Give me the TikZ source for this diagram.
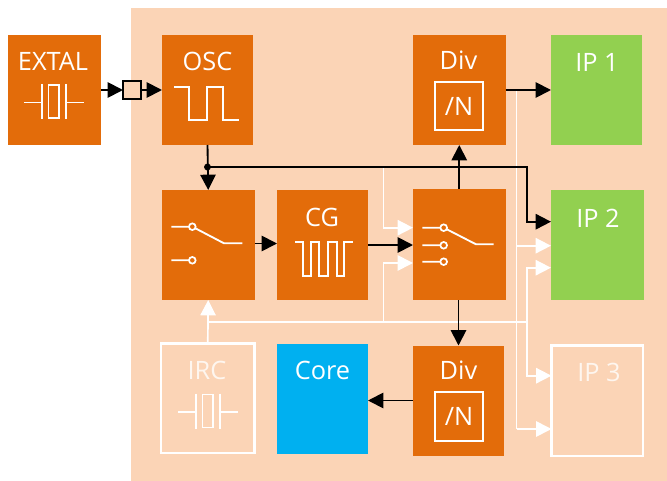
\documentclass[tikz,border=0pt]{standalone}
\usepackage{fontspec}
\setmainfont{Open Sans}
\usetikzlibrary{arrows.meta,calc}
\definecolor{orng}{HTML}{E36C0A}
\definecolor{peach}{HTML}{FBD4B6}
\definecolor{grn}{HTML}{92D050}
\definecolor{blu}{HTML}{00B0F0}
\tikzset{
  x=0.75pt,y=-0.75pt,
  lbl/.style={text=white,inner sep=0,font=\fontsize{19}{22}\selectfont},
  faint/.style={text=white!78!peach},
  wk/.style={draw=black,line width=1.4pt,-{Triangle[length=11.5pt,width=11.5pt]}},
  ww/.style={draw=white,line width=1.25pt,-{Triangle[length=11.5pt,width=11.5pt]}},
  wline/.style={draw=white,line width=1.25pt},
  icon/.style={draw=white,line width=1.4pt},
  pin/.style={circle,draw=white,line width=1.3pt,fill=orng,minimum size=5pt,inner sep=0},
}
\newcommand{\blockat}[7]{% name, x1,y1,x2,y2, fill, draw
  \path[fill=#6,draw=#7,line width=1.6pt] (#2,#3) rectangle (#4,#5);
  \node[inner sep=0,outer sep=0,minimum width={(#4-#2)*0.75pt},minimum height={(#5-#3)*0.75pt}] (#1) at ({(#2+#4)/2},{(#3+#5)/2}) {};
}
\newcommand{\crystal}[2]{%
  \begin{scope}[shift={(#1,#2)}]
    \draw[icon] (24,102.5) -- (42,102.5) (42,84) -- (42,119);
    \draw[icon] (48.5,85) rectangle (59,118);
    \draw[icon] (66,84) -- (66,119) (66,102.5) -- (84,102.5);
  \end{scope}}
\begin{document}
\begin{tikzpicture}
\useasboundingbox (0,0) rectangle (667,481);
\fill[white] (0,0) rectangle (667,481);
\fill[peach] (131,8) rectangle (667,481);
% blocks
\blockat{extal}{8}{35}{100.5}{145}{orng}{none}
\blockat{osc}{162}{35}{253}{145}{orng}{none}
\blockat{swa}{162}{190}{254.5}{300}{orng}{none}
\blockat{cg}{277}{190}{368}{300}{orng}{none}
\blockat{swb}{413}{188.5}{505.5}{300}{orng}{none}
\blockat{divt}{413}{35}{505.5}{145}{orng}{none}
\blockat{divb}{413}{345.5}{504}{455.5}{orng}{none}
\blockat{ipa}{551}{35}{641.5}{145}{grn}{none}
\blockat{ipb}{551}{190}{643.5}{300}{grn}{none}
\blockat{ipc}{551.5}{345.5}{643}{456}{peach}{white}
\blockat{irc}{161}{343.5}{254.5}{453}{peach}{white}
\blockat{core}{277}{344}{368}{454}{blu}{none}
\path[fill=peach,draw=black,line width=1.6pt] (123,81) rectangle (141,99);
\node[inner sep=0,outer sep=0,minimum size=13.5pt] (pad) at (132,90) {};
% labels
\node[lbl] (textal) at (53,61) {EXTAL};
\node[lbl] (tosc) at (207.5,61) {OSC};
\node[lbl] (tcg) at (322,217) {CG};
\node[lbl] (tdivt) at (458.5,60) {Div};
\node[lbl] (tdivb) at (458.5,370.5) {Div};
\node[lbl] (tipa) at (597,62) {IP 1};
\node[lbl] (tipb) at (598,218) {IP 2};
\node[lbl,faint] (tipc) at (599,372) {IP 3};
\node[lbl] (tcore) at (322.5,370) {Core};
\node[lbl,faint] (tirc) at (207,370) {IRC};
\node[lbl,draw=white,line width=1.5pt,minimum width=36.5pt,minimum height=36.5pt] (nt) at (459,106) {/N};
\node[lbl,draw=white,line width=1.5pt,minimum width=36.5pt,minimum height=36.5pt] (nb) at (459,416.5) {/N};
% icons
\crystal{0}{0}
\crystal{154}{309.5}
\draw[icon] (174,87.3) -- (189,87.3) -- (189,120) -- (206.7,120) -- (206.7,87.3) -- (222.7,87.3) -- (222.7,120) -- (239.3,120);
\draw[icon] (295,242.3) -- (303.3,242.3) -- (303.3,275.7) -- (310.7,275.7) -- (310.7,242.3) -- (319.3,242.3) -- (319.3,275.7) -- (327.7,275.7) -- (327.7,242.3) -- (336.7,242.3) -- (336.7,275.7) -- (344.3,275.7) -- (344.3,242.3) -- (352.7,242.3);
% switch A
\draw[icon] (171.3,226.7) -- (192.3,226.7) (171.3,260.3) -- (192.3,260.3) (192.3,226.7) -- (224,243.3) -- (242.3,243.3);
\node[pin] (pa1) at (192.3,226.7) {};
\node[pin] (pa2) at (192.3,260.3) {};
% switch B
\draw[icon] (422.3,227.7) -- (443.7,227.7) (422.3,245.3) -- (443.7,245.3) (422.3,261.7) -- (443.7,261.7) (443.7,227.7) -- (476,244.3) -- (493.7,244.3);
\node[pin] (pb1) at (443.7,227.7) {};
\node[pin] (pb2) at (443.7,245.3) {};
\node[pin] (pb3) at (443.7,261.7) {};
% junction coordinates
\coordinate (jk) at (207.5,167);
\coordinate (jkr) at (527,167);
\coordinate (jw) at (207.5,322);
\coordinate (jwr) at (526.7,322);
\coordinate (jwm) at (383.5,322);
\coordinate (jwt) at (383.5,167);
\coordinate (jd) at (516.5,90);
\coordinate (ywa) at (0,227.7);
\coordinate (ywb) at (0,263);
\coordinate (yka) at (0,221.7);
\coordinate (yba) at (0,245.7);
\coordinate (ybb) at (0,267.7);
\coordinate (yca) at (0,375.7);
\coordinate (ycb) at (0,429);
\coordinate (ysa) at (0,243.5);
\coordinate (ysb) at (0,245);
% white wires
\draw[wline] (jd) -- (jd|-ycb);
\draw[ww] (irc.north) -- (swa.south);
\draw[wline] (jw) -- (jwr);
\draw[ww] (jwt) -- (jwt|-ywa) -- (swb.west|-ywa);
\draw[ww] (jwm) -- (jwm|-ywb) -- (swb.west|-ywb);
\draw[ww] (jd|-yba) -- (ipb.west|-yba);
\draw[ww] (jwr) -- (jwr|-ybb) -- (ipb.west|-ybb);
\draw[ww] (jwr) -- (jwr|-yca) -- (ipc.west|-yca);
\draw[ww] (jd|-ycb) -- (ipc.west|-ycb);
% black wires
\draw[wk] (extal.east|-pad) -- (pad.west);
\draw[wk] (pad.east) -- (osc.west|-pad);
\draw[wk] (osc.south) -- (swa.north);
\fill (jk) circle[radius=2.6pt];
\draw[wk] (jk) -- (jkr) -- (jkr|-yka) -- (ipb.west|-yka);
\draw[wk] (swa.east|-ysa) -- (cg.west|-ysa);
\draw[wk] (cg.east|-ysb) -- (swb.west|-ysb);
\draw[wk] (swb.north) -- (divt.south);
\draw[wk] (divt.east) -- (ipa.west);
\draw[wk] (swb.south-|divb.north) -- (divb.north);
\draw[wk] (divb.west) -- (core.east|-divb.west);
\end{tikzpicture}
\end{document}
